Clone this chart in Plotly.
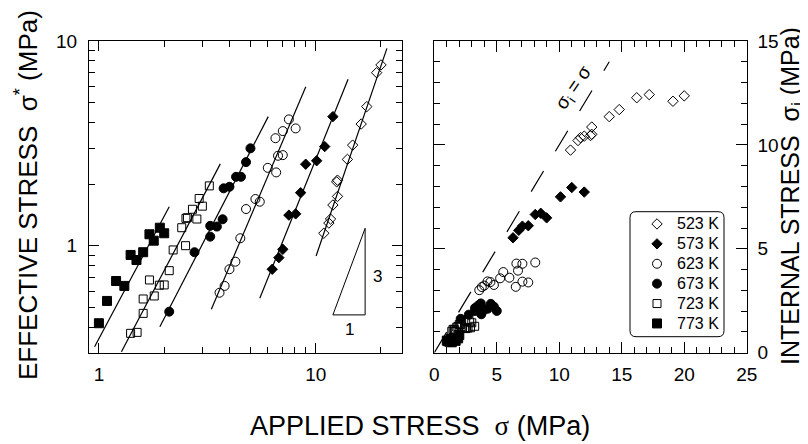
import plotly.graph_objects as go
import math

# ---------------- data ----------------
temps = ["523 K", "573 K", "623 K", "673 K", "723 K", "773 K"]

# applied stress sigma (MPa)
s523 = [10.9, 11.5, 11.7, 12.0, 12.6, 12.5, 12.6, 14.0, 14.8, 16.2, 17.2, 19.1, 20.0]
s573 = [6.3, 6.76, 7.05, 7.52, 8.08, 8.52, 8.99, 10.1, 11.0, 12.0]
s623 = [3.6, 3.8, 4.0, 4.26, 4.49, 4.77, 5.27, 5.52, 6.01, 6.57, 6.7, 7.05, 6.52, 7.05, 7.52, 8.08]
s673 = [2.11, 2.76, 3.26, 3.26, 3.5, 3.72, 3.76, 4.0, 4.29, 4.52, 4.77, 5.0]
s723 = [1.40, 1.50, 1.60, 1.60, 1.71, 1.80, 1.90, 2.00, 2.11, 2.20, 2.51, 2.41, 2.52, 2.56, 2.83, 2.70, 3.00, 2.90, 3.23]
s773 = [1.00, 1.09, 1.20, 1.31, 1.40, 1.49, 1.60, 1.71, 1.79, 1.91, 2.00]

# effective stress sigma* (MPa)
e523 = [1.15, 1.29, 1.35, 1.58, 1.74, 2.05, 2.09, 2.64, 3.10, 3.93, 4.78, 7.00, 7.64]
e573 = [0.767, 0.874, 0.96, 1.41, 1.43, 1.815, 2.5, 2.6, 3.05, 4.27]
e623 = [0.589, 0.636, 0.767, 0.835, 1.087, 1.51, 1.69, 1.64, 2.40, 2.28, 2.75, 2.77, 3.35, 3.63, 4.14, 3.74]
e673 = [0.476, 0.929, 1.107, 1.25, 1.24, 1.346, 1.906, 1.94, 2.17, 2.17, 2.56, 2.99]
e723 = [0.373, 0.377, 0.467, 0.549, 0.68, 0.568, 0.641, 0.643, 0.755, 0.953, 1.0, 1.224, 1.36, 1.37, 1.35, 1.506, 1.56, 1.70, 1.96]
e773 = [0.418, 0.537, 0.672, 0.636, 0.901, 0.851, 0.929, 1.137, 1.058, 1.224, 1.15]

# internal stress sigma_i (MPa)
i523 = [9.75, 10.21, 10.35, 10.42, 10.86, 10.45, 10.51, 11.36, 11.70, 12.27, 12.42, 12.10, 12.36]
i573 = [5.53, 5.89, 6.09, 6.11, 6.65, 6.71, 6.49, 7.50, 7.95, 7.73]
i623 = [3.01, 3.16, 3.23, 3.43, 3.40, 3.26, 3.58, 3.88, 3.61, 4.29, 3.95, 4.28, 3.17, 3.42, 3.38, 4.34]
i673 = [1.63, 1.83, 2.15, 2.01, 2.26, 2.37, 1.85, 2.06, 2.12, 2.35, 2.21, 2.01]
i723 = [1.03, 1.12, 1.13, 1.05, 1.03, 1.23, 1.26, 1.36, 1.36, 1.25, 1.51, 1.19, 1.16, 1.19, 1.48, 1.19, 1.44, 1.20, 1.27]
i773 = [0.58, 0.55, 0.53, 0.67, 0.50, 0.64, 0.67, 0.57, 0.73, 0.69, 0.85]

# fitted lines (log-log panel): [start, end]
fit_x = {"523 K": [10.04, 21.3], "573 K": [5.52, 14.1], "623 K": [3.3, 9.0],
         "673 K": [1.91, 6.04], "723 K": [1.27, 3.63], "773 K": [0.955, 2.11]}
fit_y = {"523 K": [0.89, 9.21], "573 K": [0.553, 6.5], "623 K": [0.489, 5.98],
         "673 K": [0.402, 4.27], "723 K": [0.303, 2.51], "773 K": [0.321, 1.55]}

# slope triangle (slope 3)
tri_x = [12.0, 16.9, 16.9, 12.0]
tri_y = [0.459, 0.459, 1.216, 0.459]

# sigma_i = sigma reference line
ident = [0, 14]

left_xticks = [1, 10]
left_yticks = [1, 10]
left_xminor = [2, 3, 4, 5, 6, 7, 8, 9, 20]
left_yminor = [0.3, 0.4, 0.5, 0.6, 0.7, 0.8, 0.9, 2, 3, 4, 5, 6, 7, 8, 9]

S = dict(zip(temps, [s523, s573, s623, s673, s723, s773]))
E = dict(zip(temps, [e523, e573, e623, e673, e723, e773]))
I = dict(zip(temps, [i523, i573, i623, i673, i723, i773]))

symbols = {"523 K": "diamond-open", "573 K": "diamond", "623 K": "circle-open",
           "673 K": "circle", "723 K": "square-open", "773 K": "square"}
sizes = {"523 K": 8, "573 K": 8, "623 K": 9, "673 K": 9, "723 K": 8, "773 K": 9}

# page body has an 8px margin: figure is placed at (8, 8) in the window
OFF = 8
W, H = 800, 436
FONT = "Liberation Sans, Arial, sans-serif"


def px(xp):
    return (xp - OFF) / W


def py(yp):
    return 1 - (yp - OFF) / H


fig = go.Figure()

# fit lines
for t in temps:
    fig.add_trace(go.Scatter(x=fit_x[t], y=fit_y[t], mode="lines", xaxis="x", yaxis="y",
                             line=dict(color="black", width=1.2), showlegend=False,
                             hoverinfo="skip"))

fig.add_trace(go.Scatter(x=tri_x, y=tri_y, mode="lines", xaxis="x", yaxis="y",
                         line=dict(color="black", width=1), showlegend=False, hoverinfo="skip"))

fig.add_trace(go.Scatter(x=ident, y=ident, mode="lines", xaxis="x2", yaxis="y2",
                         line=dict(color="black", width=1.2, dash="24px,23px"),
                         showlegend=False, hoverinfo="skip"))

for t in temps:
    mk = dict(symbol=symbols[t], size=sizes[t], color="black",
              line=dict(color="black", width=1))
    fig.add_trace(go.Scatter(x=S[t], y=E[t], mode="markers", xaxis="x", yaxis="y",
                             marker=mk, legendgroup=t, showlegend=False, name=t))
    fig.add_trace(go.Scatter(x=S[t], y=I[t], mode="markers", xaxis="x2", yaxis="y2",
                             marker=mk, legendgroup=t, showlegend=True,
                             name='<span style="font-size:16px">%s</span>' % t))

dom_y = [py(352.7), py(41)]
tickfont = dict(family=FONT, size=19, color="black")
common = dict(showline=True, linecolor="black", linewidth=1, mirror="ticks",
              ticks="inside", tickcolor="black", tickwidth=1, showgrid=False,
              zeroline=False, tickfont=tickfont, automargin=False)

fig.update_layout(
    template="none",
    width=W, height=H, margin=dict(l=0, r=0, t=0, b=0, autoexpand=False),
    paper_bgcolor="white", plot_bgcolor="white",
    font=dict(family=FONT, color="black"),
    xaxis=dict(domain=[px(89), px(402)], type="log",
               range=[math.log10(0.9), math.log10(25)],
               tickmode="array", tickvals=left_xticks, ticktext=["1", "10"],
               ticklen=10, ticklabelstandoff=4,
               minor=dict(tickmode="array", tickvals=left_xminor, ticklen=6,
                          ticks="inside", tickcolor="black", tickwidth=1),
               anchor="y", **common),
    yaxis=dict(domain=dom_y, type="log", range=[math.log10(0.3), 1],
               tickmode="array", tickvals=left_yticks, ticktext=["1", "10"],
               ticklen=10, ticklabelstandoff=7,
               minor=dict(tickmode="array", tickvals=left_yminor, ticklen=6,
                          ticks="inside", tickcolor="black", tickwidth=1),
               anchor="x", **common),
    xaxis2=dict(domain=[px(434.3), px(746.7)], range=[0, 25],
                tickmode="linear", tick0=0, dtick=5, ticklen=11, ticklabelstandoff=4,
                minor=dict(dtick=1, ticklen=6, ticks="inside", tickcolor="black", tickwidth=1),
                anchor="y2", **common),
    yaxis2=dict(domain=dom_y, range=[0, 15], side="right",
                tickmode="linear", tick0=0, dtick=5, ticklen=11, ticklabelstandoff=6,
                minor=dict(dtick=1, ticklen=6, ticks="inside", tickcolor="black", tickwidth=1),
                anchor="x2", **common),
    legend=dict(x=px(637), y=py(209), xanchor="left", yanchor="top",
                bgcolor="rgba(0,0,0,0)", borderwidth=0,
                font=dict(family=FONT, size=13, color="black"),
                tracegroupgap=0),
)

# rounded legend frame
L, T, R, B, r = 630, 211.7, 724, 336.7, 6
pts = [("M", L + r, T), ("L", R - r, T), ("Q", R, T, R, T + r), ("L", R, B - r),
       ("Q", R, B, R - r, B), ("L", L + r, B), ("Q", L, B, L, B - r), ("L", L, T + r),
       ("Q", L, T, L + r, T)]
path = ""
for p in pts:
    if p[0] == "Q":
        path += "Q %.5f,%.5f %.5f,%.5f " % (px(p[1]), py(p[2]), px(p[3]), py(p[4]))
    else:
        path += "%s %.5f,%.5f " % (p[0], px(p[1]), py(p[2]))
path += "Z"
fig.add_shape(type="path", path=path, xref="paper", yref="paper",
              line=dict(color="black", width=1), fillcolor="rgba(0,0,0,0)")

title_font = dict(family=FONT, size=26, color="black")
fig.add_annotation(text="EFFECTIVE STRESS\u00a0\u00a0σ<sup>*</sup> (MPa)", textangle=-90,
                   xref="paper", yref="paper", x=px(27), y=py(195),
                   xanchor="center", yanchor="middle", showarrow=False, font=title_font)
fig.add_annotation(text="INTERNAL STRESS\u00a0\u00a0σ<sub>i</sub> (MPa)", textangle=-90,
                   xref="paper", yref="paper", x=px(792), y=py(196),
                   xanchor="center", yanchor="middle", showarrow=False,
                   font=dict(family=FONT, size=25, color="black"))
fig.add_annotation(text='APPLIED STRESS\u00a0\u00a0<span style="font-family:Liberation Serif">σ</span> (MPa)',
                   xref="paper", yref="paper", x=px(420), y=py(426),
                   xanchor="center", yanchor="middle", showarrow=False,
                   font=dict(family=FONT, size=27, color="black"))

fig.add_annotation(text="σ<sub>i</sub> = σ", textangle=-55, xref="x2", yref="y2",
                   x=11.2, y=12.74, showarrow=False,
                   font=dict(family=FONT, size=19, color="black"))
fig.add_annotation(text="3", xref="x", yref="y", x=math.log10(19.3), y=math.log10(0.706),
                   showarrow=False, font=dict(family=FONT, size=17, color="black"))
fig.add_annotation(text="1", xref="x", yref="y", x=math.log10(14.3), y=math.log10(0.388),
                   showarrow=False, font=dict(family=FONT, size=17, color="black"))

fig.write_html("out.html")
